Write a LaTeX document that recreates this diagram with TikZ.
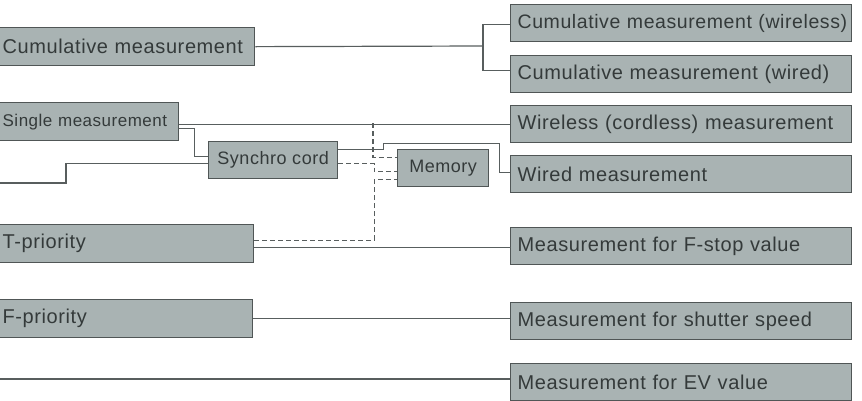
\documentclass[tikz,border=0pt]{standalone}
\usepackage{fontspec}
\setmainfont{Liberation Sans}[LetterSpace=3]
\usetikzlibrary{calc}
\definecolor{boxfill}{RGB}{169,179,179}
\definecolor{boxline}{RGB}{80,86,86}
\definecolor{inktext}{RGB}{52,58,58}
\definecolor{wirecol}{RGB}{88,94,94}
\tikzset{
  box/.style={draw=boxline, fill=boxfill, line width=1.3pt, anchor=north west,
    inner ysep=0pt, minimum height=37pt, text=inktext,
    font=\fontsize{20}{23}\selectfont},
  leftbox/.style={box, inner xsep=6pt, align=left, text width=#1, minimum height=38pt},
  rightbox/.style={box, inner xsep=7pt, align=left, text width=327pt},
  midbox/.style={box, inner xsep=0pt, align=center, minimum width=#1,
    font=\fontsize{18}{21}\selectfont},
  wire/.style={draw=wirecol, line width=1.2pt},
  cordwire/.style={wire, dash pattern=on 5pt off 3pt},
}
\begin{document}
\begin{tikzpicture}[x=1pt,y=1pt,yscale=-1,xscale=1]
\useasboundingbox (0,0) rectangle (862,400);

% Modes (left)
\node[leftbox=246pt] (cum) at (-4,27) {Cumulative measurement};
\node[leftbox=170pt, font=\fontsize{17}{20}\selectfont] (single) at (-4,102) {Single measurement};
\node[leftbox=245pt] (tpri) at (-4,224) {T-priority};
\node[leftbox=244pt] (fpri) at (-4,299) {F-priority};

% Middle
\node[midbox=129pt] (sync) at (208,141) {Synchro cord};
\node[midbox=91pt] (mem) at (397,149) {Memory};

% Results (right)
\node[rightbox, font=\fontsize{19.5}{23}\selectfont] (cwl) at (510,4) {\mbox{Cumulative measurement (wireless)}};
\node[rightbox] (cwd) at (510,55) {Cumulative measurement (wired)};
\node[rightbox] (wl) at (510,105) {Wireless (cordless) measurement};
\node[rightbox] (wd) at (510,155) {Wired measurement};
\node[rightbox] (fstop) at (510,227) {Measurement for F-stop value};
\node[rightbox] (shut) at (510,302) {Measurement for shutter speed};
\node[rightbox] (ev) at (510,363) {Measurement for EV value};

% Solid connectors
\coordinate (fork) at (483,46);
\draw[wire] (cum.east) -- (fork);
\draw[wire] ($(cwl.west)+(0,1.5)$) -| (fork) |- ($(cwd.west)+(0,-3.5)$);
\draw[wire] (single.east |- wl.west) -- (wl.west);
\draw[wire] ($(single.east)+(0,7)$) -- ++(15,0) |- ($(sync.west)+(0,-4)$);
\coordinate (lin) at (-4,183);
\draw[wire] (lin) -- ++(70,0) |- ($(sync.west)+(0,3)$);
\draw[wire] ($(sync.east)+(0,-11)$) -- ++(45,0) -- ++(0,-6) -- ++(116,0) |- ($(wd.west)+(0,-1.5)$);
\draw[wire] ($(tpri.east)+(0,4)$) -- ++(257,0);
\draw[wire] (fpri.east) -- (fpri.east -| shut.west);
\coordinate (evin) at (-4,379);
\draw[wire] (evin) -- (evin -| ev.west);

% Dashed connectors to memory
\coordinate (bus) at (373,123);
\draw[cordwire] (bus) |- ($(mem.west)+(0,-11)$);
\draw[cordwire] ($(sync.east)+(0,3.5)$) -- ++(36,0) |- ($(mem.west)+(0,3.5)$);
\draw[cordwire] ($(tpri.east)+(0,-3.5)$) -- ++(120,0) |- ($(mem.west)+(0,11.5)$);

\end{tikzpicture}
\end{document}
